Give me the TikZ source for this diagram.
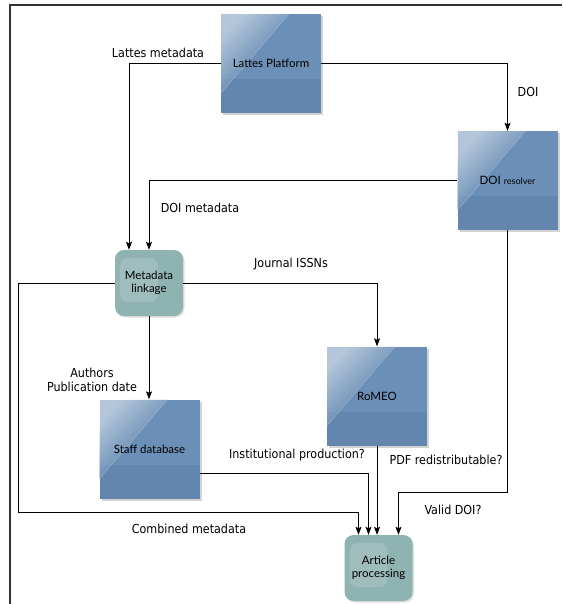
\documentclass[tikz,border=0pt]{standalone}
\usepackage{fontspec}
\setmainfont{DejaVu Sans}
\newfontfamily\edgefont{DejaVu Sans Condensed}
\newfontfamily\boxfont{Lato}
\usetikzlibrary{arrows.meta,shadows,calc}

\definecolor{blockblue}{HTML}{6B8FB6}
\definecolor{blockdark}{HTML}{6386AE}
\definecolor{linkteal}{HTML}{8FB3B1}
\definecolor{framegray}{HTML}{333333}

\tikzset{
  blockbox/.style={rectangle, fill=blockblue, minimum width=100pt, minimum height=99pt,
    inner sep=0pt, align=center, font=\boxfont\fontsize{11.5}{13}\selectfont,
    drop shadow={shadow xshift=2pt, shadow yshift=-2pt, opacity=0.35},
    path picture={
      \fill[blockdark] (path picture bounding box.south west) rectangle
        ($(path picture bounding box.north east)!0.66!(path picture bounding box.south east)$);
      \shade[top color=white!90!blockblue, bottom color=blockblue, middle color=blockblue!80!white,
        shading angle=45, opacity=0.55]
        (path picture bounding box.north west)
        -- ($(path picture bounding box.north west)!0.68!(path picture bounding box.north east)$)
        -- ($(path picture bounding box.north west)!0.80!(path picture bounding box.south west)$)
        -- cycle;
      \draw[white, opacity=0.3]
        ($(path picture bounding box.north west)!0.68!(path picture bounding box.north east)$)
        -- ($(path picture bounding box.north west)!0.80!(path picture bounding box.south west)$);
    }},
  roundbox/.style={rectangle, rounded corners=9pt, fill=linkteal, minimum width=68pt,
    minimum height=66pt, inner sep=0pt, align=center,
    font=\boxfont\fontsize{11.5}{12.5}\selectfont,
    drop shadow={shadow xshift=1.5pt, shadow yshift=-1.5pt, opacity=0.25},
    path picture={
      \fill[white, opacity=0.14, rounded corners=8pt]
        ($(path picture bounding box.north west)+(5pt,-8pt)$) rectangle
        ($(path picture bounding box.north west)+(43pt,-52pt)$);
    }},
  edgelabel/.style={font=\edgefont\fontsize{12.4}{14.5}\selectfont, align=center, inner sep=0pt},
  flow/.style={draw, line width=0.8pt, -{Stealth[length=8pt, width=6pt, inset=1.5pt]}},
}

\begin{document}
\begin{tikzpicture}[x=1pt, y=-1pt]
  \useasboundingbox (0,0) rectangle (562,604);
  \draw[framegray, line width=1.4pt] (562,5) -- (10,5) -- (10,604);

  % boxes
  \node[blockbox] (lattes) at (271,63.5) {Lattes Platform};
  \node[blockbox] (doi) at (507.5,180.5) {DOI {\fontsize{9}{10}\selectfont resolver}};
  \node[roundbox] (meta) at (149,283) {Metadata\\linkage};
  \node[blockbox] (romeo) at (377,396) {RoMEO};
  \node[blockbox] (staff) at (149.5,449) {Staff database};
  \node[roundbox] (art) at (378.5,568) {Article\\processing};

  % labels
  \node[edgelabel] (lblLattes) at (158,53) {Lattes metadata};
  \node[edgelabel] (lblDoi) at (528,92) {DOI};
  \node[edgelabel] (lblDoiMeta) at (200,208) {DOI metadata};
  \node[edgelabel] (lblIssn) at (291,264) {Journal ISSNs};
  \node[edgelabel] (lblAuthors) at (92,380) {Authors\\Publication date};
  \node[edgelabel] (lblInst) at (297,455) {Institutional production?};
  \node[edgelabel] (lblPdf) at (446,460) {PDF redistributable?};
  \node[edgelabel] (lblValid) at (453,510) {Valid DOI?};
  \node[edgelabel] (lblCombined) at (189,529) {Combined metadata};

  % connectors
  \draw[flow] (lattes.west) -| ([xshift=-20pt]meta.north);
  \draw[flow] (lattes.east) -| (doi.north);
  \draw[flow] (doi.west) -| (meta.north);
  \draw[flow] (meta.east) -| (romeo.north);
  \draw[flow] (meta.south) -- (meta.south |- staff.north);
  \draw[flow] (meta.west) -- (meta.west -| 18,0) |- (18,512) -| ([xshift=-20pt]art.north);
  \draw[flow] ([yshift=-24pt]staff.east) -| ([xshift=-10pt]art.north);
  \draw[flow] (romeo.south) -- (romeo.south |- art.north);
  \draw[flow] (doi.south) -- (doi.south |- 0,492) -| ([xshift=20pt]art.north);
\end{tikzpicture}
\end{document}
